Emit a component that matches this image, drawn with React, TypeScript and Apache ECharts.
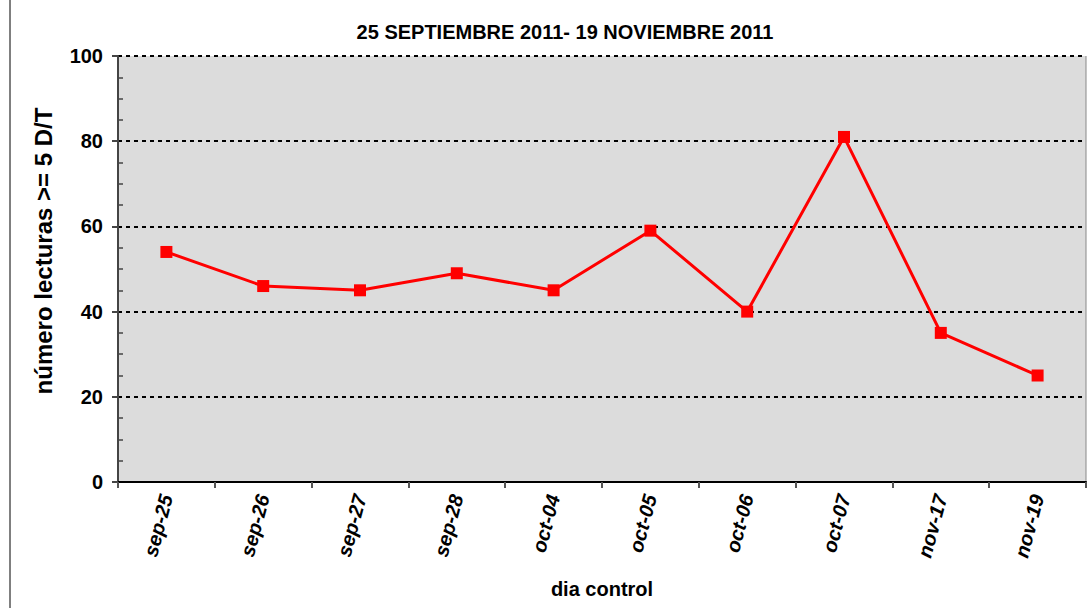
import React, { useEffect, useRef } from "react";
import * as echarts from "echarts";

const categories = ["sep-25", "sep-26", "sep-27", "sep-28", "oct-04", "oct-05", "oct-06", "oct-07", "nov-17", "nov-19"];
const values = [54, 46, 45, 49, 45, 59, 40, 81, 35, 25];
const titleText = "25 SEPTIEMBRE 2011- 19 NOVIEMBRE 2011";
const yName = "número lecturas >= 5 D/T";
const xName = "dia control";

const FONT = "'Liberation Sans', Arial, sans-serif";

export default function App() {
  const ref = useRef<HTMLDivElement>(null);
  useEffect(() => {
    if (!ref.current) return;
    const chart = echarts.init(ref.current, undefined, { renderer: "svg" });
    chart.setOption({
      animation: false,
      textStyle: { fontFamily: FONT },
      title: {
        text: titleText,
        left: 560,
        top: 17,
        textAlign: "center",
        textStyle: { fontFamily: FONT, fontSize: 20, fontWeight: "bold", color: "#000" },
      },
      grid: { left: 118, top: 56, width: 968, height: 426, containLabel: false, show: true, backgroundColor: "#dcdcdc", borderWidth: 0 },
      xAxis: {
        type: "category",
        data: categories,
        boundaryGap: true,
        axisLine: { lineStyle: { color: "#000", width: 2 } },
        axisTick: { show: true, length: 6, lineStyle: { color: "#555", width: 2 }, alignWithLabel: false },
        axisLabel: {
          rotate: 75,
          margin: 13,
          fontFamily: FONT,
          fontSize: 20,
          fontWeight: "bold",
          fontStyle: "italic",
          color: "#000",
          interval: 0,
        },
        name: xName,
        nameLocation: "middle",
        nameGap: 97,
        nameTextStyle: { fontFamily: FONT, fontSize: 20, fontWeight: "bold", color: "#000" },
      },
      yAxis: {
        type: "value",
        min: 0,
        max: 100,
        interval: 20,
        axisLine: { show: true, lineStyle: { color: "#444", width: 2 } },
        axisTick: { show: true, length: 6, lineStyle: { color: "#444", width: 2 } },
        minorTick: { show: true, splitNumber: 4, length: -5, lineStyle: { color: "#444", width: 1.5 } },
        axisLabel: { fontFamily: FONT, fontSize: 20, fontWeight: "bold", color: "#000", margin: 15 },
        splitLine: { show: true, lineStyle: { color: "#000", width: 2, type: [4, 4] } },
      },
      series: [
        {
          type: "line",
          data: values,
          symbol: "rect",
          symbolSize: 12,
          itemStyle: { color: "#ff0000" },
          lineStyle: { color: "#ff0000", width: 3 },
        },
      ],
      graphic: [
        { type: "line", shape: { x1: 10, y1: 0, x2: 10, y2: 608 }, style: { stroke: "#000", lineWidth: 1 } },
        { type: "line", shape: { x1: 1086, y1: 56, x2: 1086, y2: 482 }, style: { stroke: "#888", lineWidth: 1 } },
        {
          type: "text",
          x: 43,
          y: 251,
          rotation: Math.PI / 2,
          style: {
            text: yName,
            align: "center",
            verticalAlign: "middle",
            font: "bold 24px 'Liberation Sans', Arial, sans-serif",
            fill: "#000",
          },
        },
      ],
    });
    return () => chart.dispose();
  }, []);
  return <div ref={ref} style={{ width: 1087, height: 608, position: "absolute", left: 0, top: 0 }} />;
}
